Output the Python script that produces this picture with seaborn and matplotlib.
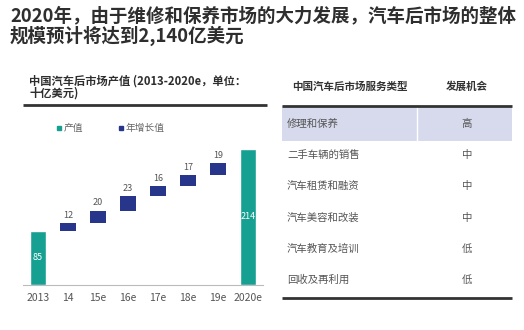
import matplotlib
matplotlib.use("Agg")
import matplotlib.pyplot as plt
import seaborn as sns
import numpy as np
import pandas as pd

# Market size waterfall (billion USD)
categories = ["2013", "14", "15e", "16e", "17e", "18e", "19e", "2020e"]
start_value = 85
end_value = 214
increments = [12, 20, 23, 16, 17, 19]

# Service types and outlook
services = ["修理和保养", "二手车辆的销售", "汽车租赁和融资", "汽车美容和改装", "汽车教育及培训", "回收及再利用"]
outlook = ["高", "中", "中", "中", "低", "低"]

TEAL = "#16a092"
NAVY = "#27368a"
SHADE = "#d6daec"
DARK = "#2e2e2e"
GRAY = "#555555"

sns.set_theme(style="white")
plt.rcParams["font.family"] = ["Noto Sans CJK SC", "DejaVu Sans"]

W, H = 524, 330
fig = plt.figure(figsize=(W / 100, H / 100), dpi=100)
fig.patch.set_facecolor("white")

# Overlay axes in pixel coordinates for headings, rules and the table
ov = fig.add_axes([0, 0, 1, 1])
ov.set_xlim(0, W)
ov.set_ylim(H, 0)
ov.axis("off")

ov.text(10, 16, "2020年，由于维修和保养市场的大力发展，汽车后市场的整体",
        fontsize=13.3, fontweight="bold", color=DARK, va="center", ha="left")
ov.text(10, 36, "规模预计将达到2,140亿美元",
        fontsize=13.3, fontweight="bold", color=DARK, va="center", ha="left")

ov.text(29, 81, "中国汽车后市场产值 (2013-2020e，单位：",
        fontsize=8.1, fontweight="bold", color=DARK, va="center", ha="left")
ov.text(29, 93, "十亿美元)",
        fontsize=8.1, fontweight="bold", color=DARK, va="center", ha="left")
ov.plot([23, 267], [105, 105], color="#333333", lw=2, solid_capstyle="butt")

# Legend
ov.add_patch(plt.Rectangle((57, 126), 4, 4, color=TEAL))
ov.text(64, 128, "产值", fontsize=7, color="#666666", va="center")
ov.add_patch(plt.Rectangle((119, 126), 4, 4, color=NAVY))
ov.text(126, 128, "年增长值", fontsize=7, color="#666666", va="center")

# Table
tx0, tx1, tdiv = 282, 512, 417
ov.text(292, 87, "中国汽车后市场服务类型", fontsize=7.6, fontweight="bold",
        color="#333333", va="center", ha="left")
ov.text(467, 87, "发展机会", fontsize=7.6, fontweight="bold",
        color="#333333", va="center", ha="center")
ov.add_patch(plt.Rectangle((tx0, 106), tx1 - tx0, 35, color=SHADE, lw=0))
ov.plot([tdiv, tdiv], [106, 141], color="white", lw=1)
ov.plot([tx0, tx1], [105.5, 105.5], color="#333333", lw=2, solid_capstyle="butt")
row_y = [124, 155, 186, 218, 249, 280]
for y, s, o in zip(row_y, services, outlook):
    ov.text(287, y, s, fontsize=7.5, color=GRAY, va="center", ha="left")
    ov.text(467, y, o, fontsize=7.5, color=GRAY, va="center", ha="center")
ov.plot([tx0, tx1], [298, 298], color="#333333", lw=2, solid_capstyle="butt")

# Waterfall chart
ax_left, ax_right = 23, 263
ax_bottom, ax_top = 285, 135
ax = fig.add_axes([ax_left / W, (H - ax_bottom) / H,
                   (ax_right - ax_left) / W, (ax_bottom - ax_top) / H])
ax.patch.set_alpha(0)

n = len(categories)
totals = [start_value] + [np.nan] * (n - 2) + [end_value]
df = pd.DataFrame({"cat": categories, "total": totals})
sns.barplot(data=df, x="cat", y="total", color=TEAL, saturation=1,
            width=0.55, ax=ax, order=categories)

bottoms = start_value + np.concatenate([[0], np.cumsum(increments)[:-1]])
xs = np.arange(1, 1 + len(increments))
ax.bar(xs, increments, bottom=bottoms, width=0.55, color=NAVY, lw=0)

for x, b, v in zip(xs, bottoms, increments):
    ax.text(x, b + v + 5, f"{v}", ha="center", va="bottom", fontsize=6.5, color=GRAY)
ax.text(0, start_value / 2, f"{start_value}", ha="center", va="center",
        fontsize=6.5, color="white")
ax.text(n - 1, end_value / 2, f"{end_value}", ha="center", va="center",
        fontsize=6.5, color="white")

ax.set_xlim(-0.5, n - 0.5)
ax.set_ylim(0, (ax_bottom - ax_top) / 0.636)
ax.set_xlabel("")
ax.set_ylabel("")
ax.set_yticks([])
for side in ["top", "right", "left"]:
    ax.spines[side].set_visible(False)
ax.spines["bottom"].set_color("#bbbbbb")
ax.spines["bottom"].set_linewidth(0.8)
ax.tick_params(axis="x", length=0, labelsize=7.5, labelcolor=GRAY, pad=6)
ax.set_xticks(np.arange(n - 1) + 0.5, minor=True)
ax.tick_params(axis="x", which="minor", length=3, color="#bbbbbb", width=0.8)

fig.savefig("out.png", dpi=100, facecolor="white")
